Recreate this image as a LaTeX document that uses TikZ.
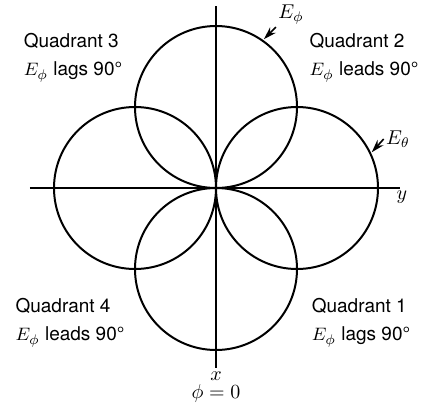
\documentclass[tikz,border=0pt]{standalone}
\usepackage{amsmath,amssymb}
\usepackage{fontspec}
\setmainfont{TeX Gyre Heros}
\usepackage{tikz}
\usetikzlibrary{arrows.meta,positioning,calc}
\tikzstyle{lobe} = [line width=1pt]
\tikzstyle{axis} = [line width=0.9pt]
\tikzstyle{quad} = [align=left,inner sep=0pt,font=\fontsize{9.5}{14}\selectfont]
\tikzstyle{pointer} = [line width=0.8pt,-{Stealth[length=6.5pt,width=4pt]},shorten >=1pt]

\begin{document}
\begin{tikzpicture}[x=0.5pt,y=-0.5pt]
        \useasboundingbox (0,0) rectangle (425,403);
        \coordinate (O) at (216,188);
        \coordinate (left) at (30,188);
        \coordinate (right) at (400,188);
        \coordinate (top) at (216,6);
        \coordinate (bottom) at (216,368);
        \draw[axis] (left) to (right) (top) to (bottom);

        \draw[lobe] (216,107) circle[radius=40.5pt];
        \draw[lobe] (216,269) circle[radius=40.5pt];
        \draw[lobe] (135,188) circle[radius=40.5pt];
        \draw[lobe] (297,188) circle[radius=40.5pt];

        \coordinate (ephi) at ($(216,107)+(-55:81)$);
        \coordinate (etheta) at ($(297,188)+(-25:81)$);
        \node[inner sep=1pt] (Lphi) at (291,15) {$E_\phi$};
        \node[inner sep=1pt] (Ltheta) at (398,139) {$E_\theta$};
        \draw[pointer] (Lphi.south west) to (ephi);
        \draw[pointer] (Ltheta.west) to (etheta);

        \node (ylab) at (402,197) {$y$};
        \node[inner sep=0pt] (xlab) at (216,376) {$x$};
        \node[inner sep=0pt] (philab) at (216,393) {$\phi = 0$};

        \node[quad] (q3) at (73,58) {Quadrant 3\\$E_\phi$ lags 90°};
        \node[quad] (q2) at (364,58) {Quadrant 2\\$E_\phi$ leads 90°};
        \node[quad] (q4) at (70,323) {Quadrant 4\\$E_\phi$ leads 90°};
        \node[quad] (q1) at (361,323) {Quadrant 1\\$E_\phi$ lags 90°};
    \end{tikzpicture}
\end{document}
